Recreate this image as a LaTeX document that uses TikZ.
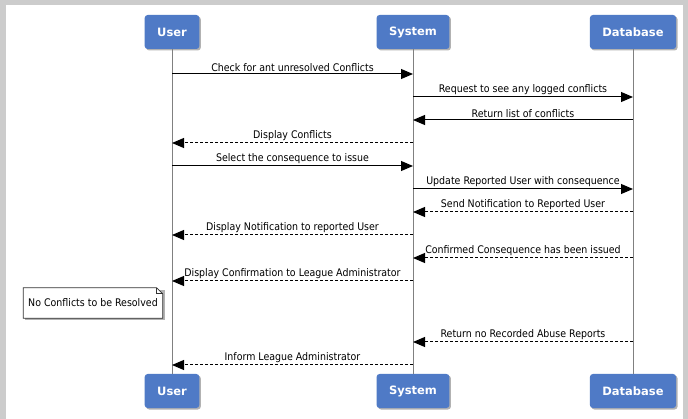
\documentclass[tikz,border=0pt]{standalone}
\usepackage{fontspec}
\setmainfont{DejaVu Sans Condensed}
\newfontfamily\boxfont{DejaVu Sans}
\usetikzlibrary{arrows.meta,shadows,backgrounds,positioning}
\definecolor{actorblue}{RGB}{79,122,198}
\definecolor{framegrey}{RGB}{204,204,204}
\definecolor{lifegrey}{RGB}{128,128,128}

\tikzset{
actor/.style={fill=actorblue,rounded corners=3pt,text=white,
  font=\boxfont\bfseries\fontsize{11.5}{13}\selectfont,
  minimum height=34pt,inner xsep=12.5pt,
  drop shadow={shadow xshift=1.5pt,shadow yshift=-1.5pt,opacity=0.6}},
msg/.style={-{Triangle[length=12pt,width=10pt]},line width=1pt},
reply/.style={msg,dash pattern=on 3pt off 2pt},
lbl/.style={above,inner sep=1.5pt,font=\fontsize{10.5}{12}\selectfont},
lifeline/.style={lifegrey,line width=1pt},
notetext/.style={inner sep=0pt,minimum width=139pt,minimum height=30pt,
  font=\fontsize{10.5}{12}\selectfont}
}

\begin{document}
\begin{tikzpicture}[x=1pt,y=-1pt]
\useasboundingbox (0,0) rectangle (688,419);

% actors, top and bottom
\node[actor] (userTop) at (172,32) {User};
\node[actor] (sysTop) at (413,32) {System};
\node[actor] (dbTop) at (633,32) {Database};
\node[actor] (userBot) at (172,391) {User};
\node[actor] (sysBot) at (413,391) {System};
\node[actor] (dbBot) at (633,391) {Database};

% lifelines
\draw[lifeline] (userTop) -- (userBot);
\draw[lifeline] (sysTop) -- (sysBot);
\draw[lifeline] (dbTop) -- (dbBot);

% message rows
\foreach \n/\y in {1/74,2/97,3/120,4/143,5/166,6/189,7/212,8/235,9/258,10/281,11/342,12/365}{
  \coordinate (u\n) at (172,\y);
  \coordinate (s\n) at (413,\y);
  \coordinate (d\n) at (633,\y);
}

\draw[msg] (u1) -- node[lbl] {Check for ant unresolved Conflicts} (s1);
\draw[msg] (s2) -- node[lbl] {Request to see any logged conflicts} (d2);
\draw[msg] (d3) -- node[lbl] {Return list of conflicts} (s3);
\draw[reply] (s4) -- node[lbl] {Display Conflicts} (u4);
\draw[msg] (u5) -- node[lbl] {Select the consequence to issue} (s5);
\draw[msg] (s6) -- node[lbl] {Update Reported User with consequence} (d6);
\draw[reply] (d7) -- node[lbl] {Send Notification to Reported User} (s7);
\draw[reply] (s8) -- node[lbl] {Display Notification to reported User} (u8);
\draw[reply] (d9) -- node[lbl] {Confirmed Consequence has been issued} (s9);
\draw[reply] (s10) -- node[lbl] {Display Confirmation to League Administrator} (u10);
\draw[reply] (d11) -- node[lbl] {Return no Recorded Abuse Reports} (s11);
\draw[reply] (s12) -- node[lbl] {Inform League Administrator} (u12);

% note
\node[notetext] (noConf) at (93,303) {No Conflicts to be Resolved};

\begin{scope}[on background layer]
\fill[framegrey] (0,0) rectangle (688,419);
\fill[white] (6,5) rectangle (683,419);
\fill[black!30] ([shift={(2pt,-2pt)}]noConf.north west) -- ([shift={(2pt,-2pt)}]noConf.north east)
  -- ([shift={(2pt,-2pt)}]noConf.south east) -- ([shift={(2pt,-2pt)}]noConf.south west) -- cycle;
\draw[draw=black!80,fill=white,line width=0.8pt] (noConf.north west) -- ([xshift=-6pt]noConf.north east)
  -- ([yshift=-6pt]noConf.north east) -- (noConf.south east) -- (noConf.south west) -- cycle;
\draw[draw=black!80,line width=0.6pt] ([xshift=-6pt]noConf.north east) |- ([yshift=-6pt]noConf.north east);
\end{scope}
\end{tikzpicture}
\end{document}
